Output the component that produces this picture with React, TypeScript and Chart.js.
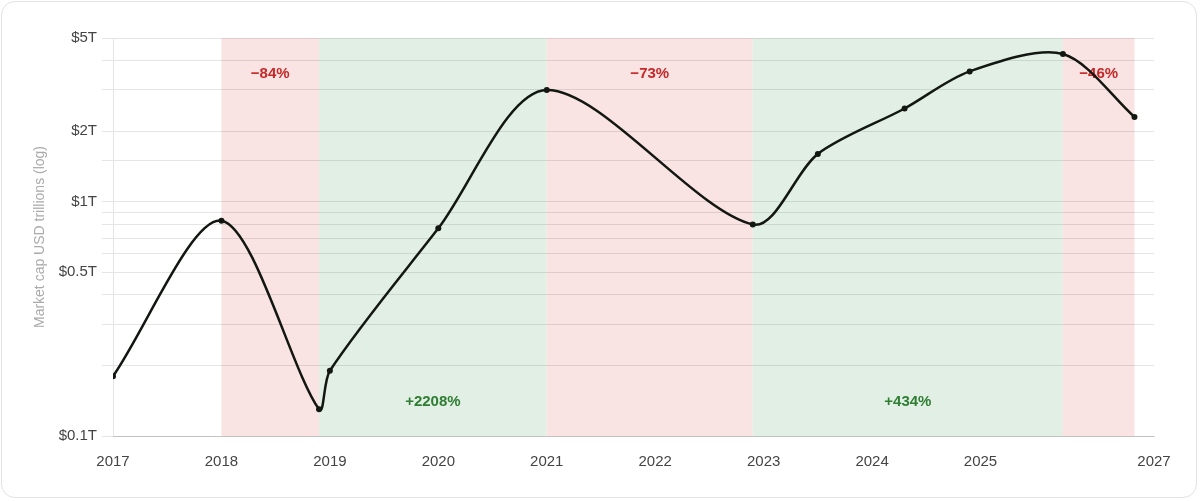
import React, { useEffect, useRef } from 'react';
import { Chart, registerables } from 'chart.js';

Chart.register(...registerables);

// Data (year as decimal, market cap in USD trillions)
const years = [2017.0, 2018.0, 2018.9, 2019.0, 2020.0, 2021.0, 2022.9, 2023.5, 2024.3, 2024.9, 2025.76, 2026.42];
const marketCap = [0.18, 0.83, 0.13, 0.19, 0.77, 3.0, 0.8, 1.6, 2.5, 3.6, 4.27, 2.3];

// Cycle bands
const bandStart = [2018.0, 2018.9, 2021.0, 2022.9, 2025.76];
const bandEnd = [2018.9, 2021.0, 2022.9, 2025.76, 2026.42];
const bandLabels = ['−84%', '+2208%', '−73%', '+434%', '−46%'];
const bandUp = [false, true, false, true, false];

// Axis
const yTickLabels = [0.1, 0.5, 1, 2, 5];
const xMin = 2017;
const xMax = 2026.6;

const FONT = "'Liberation Sans', Arial, sans-serif";

const bandsPlugin = {
  id: 'bands',
  beforeDraw(chart: any) {
    const { ctx, chartArea: a, scales } = chart;
    const x = scales.x;
    ctx.save();
    bandStart.forEach((s, i) => {
      const x0 = x.getPixelForValue(s);
      const x1 = x.getPixelForValue(bandEnd[i]);
      ctx.fillStyle = bandUp[i] ? '#e2efe5' : '#f9e3e3';
      ctx.fillRect(x0, a.top, x1 - x0, a.bottom - a.top);
    });
    ctx.restore();
  },
  beforeDatasetsDraw(chart: any) {
    const { ctx, chartArea: a, scales } = chart;
    const x = scales.x;
    ctx.save();
    ctx.font = `bold 15px ${FONT}`;
    ctx.textAlign = 'center';
    ctx.textBaseline = 'middle';
    bandStart.forEach((s, i) => {
      const mid = (x.getPixelForValue(s) + x.getPixelForValue(bandEnd[i])) / 2;
      ctx.fillStyle = bandUp[i] ? '#2e7d32' : '#c62828';
      const y = bandUp[i] ? a.bottom - 34 : a.top + 36;
      ctx.fillText(bandLabels[i], mid, y);
    });
    ctx.restore();
  },
};

export default function App() {
  const ref = useRef<HTMLCanvasElement | null>(null);

  useEffect(() => {
    document.body.style.margin = '0';
    const canvas = ref.current;
    if (!canvas) return;
    const chart = new Chart(canvas, {
      type: 'line',
      data: {
        datasets: [
          {
            data: years.map((y, i) => ({ x: y, y: marketCap[i] })),
            borderColor: '#121712',
            backgroundColor: '#121712',
            borderWidth: 2.5,
            pointRadius: 3,
            pointBackgroundColor: '#121712',
            pointBorderWidth: 0,
            tension: 0.3,
            fill: false,
          },
        ],
      },
      options: {
        animation: false,
        responsive: false,
        devicePixelRatio: 1,
        layout: { padding: { top: 38, right: 46, left: 0, bottom: 0 } },
        plugins: {
          legend: { display: false },
          tooltip: { enabled: false },
        },
        scales: {
          x: {
            type: 'linear',
            min: xMin,
            max: xMax,
            grid: { display: false, drawTicks: false },
            border: { display: true, color: 'rgba(0,0,0,0.15)' },
            ticks: {
              stepSize: 1,
              padding: 17,
              color: '#444',
              font: { family: FONT, size: 15 },
              maxRotation: 0,
              autoSkip: false,
              callback: (v: any) => String(Math.round(Number(v))),
            },
            afterFit: (s: any) => {
              s.height = 65;
            },
          },
          y: {
            type: 'logarithmic',
            min: 0.1,
            max: 5,
            grid: { color: 'rgba(0,0,0,0.1)', tickLength: 11 },
            border: { display: true, color: 'rgba(0,0,0,0.1)' },
            ticks: {
              autoSkip: false,
              padding: 5,
              color: '#444',
              font: { family: FONT, size: 15 },
              callback: (v: any) => {
                const n = Number(v);
                const hit = yTickLabels.find((t) => Math.abs(t - n) < 1e-9);
                return hit !== undefined ? `$${hit}T` : '';
              },
            },
            title: {
              display: true,
              text: 'Market cap USD trillions (log)',
              color: '#aaa',
              font: { family: FONT, size: 14 },
              padding: { top: 32, bottom: 0 },
            },
            afterFit: (s: any) => {
              s.width = 113;
            },
          },
        },
      } as any,
      plugins: [bandsPlugin],
    });
    return () => chart.destroy();
  }, []);

  return (
    <div style={{ position: 'relative', width: 1200, height: 501, background: '#fff' }}>
      <div
        style={{
          position: 'absolute',
          left: 1,
          top: 1,
          width: 1196,
          height: 497,
          boxSizing: 'border-box',
          border: '1px solid #e2e2e2',
          borderRadius: 14,
        }}
      />
      <canvas ref={ref} width={1200} height={501} style={{ position: 'absolute', left: 0, top: 0 }} />
    </div>
  );
}
